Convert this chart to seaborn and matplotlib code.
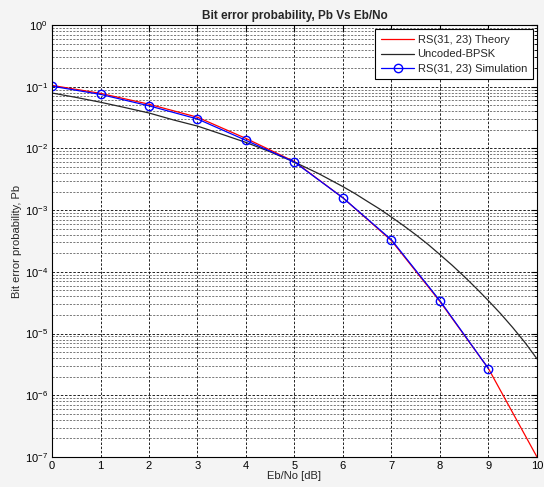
import numpy as np
import pandas as pd
import matplotlib
matplotlib.use('Agg')
import matplotlib.pyplot as plt
import matplotlib.ticker as mticker
import seaborn as sns

# values
ebno = [0, 1, 2, 3, 4, 5, 6, 7, 8, 9, 10]
rs_theory = [0.105, 0.078, 0.052, 0.032, 0.0145, 0.0061, 0.00158, 3.2e-4, 3.3e-5, 2.7e-6, 1.0e-7]

ebno_sim = [0, 1, 2, 3, 4, 5, 6, 7, 8, 9]
rs_sim = [0.102, 0.075, 0.049, 0.030, 0.0135, 0.0060, 0.00158, 3.3e-4, 3.4e-5, 2.7e-6]

ebno_bpsk = [0, 0.5, 1, 1.5, 2, 2.5, 3, 3.5, 4, 4.5, 5, 5.5, 6, 6.25, 6.5, 6.75, 7, 7.25, 7.5,
             7.75, 8, 8.25, 8.5, 8.75, 9, 9.25, 9.5, 9.75, 10]
bpsk = [0.079, 0.067, 0.056, 0.046, 0.0375, 0.029, 0.023, 0.017, 0.0125, 0.0088, 0.006,
        0.0039, 0.0024, 0.00185, 0.00139, 0.00105, 7.7e-4, 5.6e-4, 4.0e-4,
        2.8e-4, 1.9e-4, 1.28e-4, 8.4e-5, 5.4e-5, 3.4e-5, 2.1e-5, 1.25e-5, 7.2e-6, 3.9e-6]

sns.set_style('white')
plt.rcParams['font.family'] = ['Liberation Sans', 'DejaVu Sans']

fig = plt.figure(figsize=(5.44, 4.87), dpi=100, facecolor='#f4f4f4')
ax = fig.add_axes([0.0956, 0.0616, 0.8915, 0.8871])

sns.lineplot(x=ebno, y=rs_theory, ax=ax, color='red', lw=0.9, label='RS(31, 23) Theory')
sns.lineplot(x=ebno_bpsk, y=bpsk, ax=ax, color='#262626', lw=0.9, label='Uncoded-BPSK')
sns.lineplot(x=ebno_sim, y=rs_sim, ax=ax, color='blue', lw=0.9, marker='o',
             markersize=6, markerfacecolor='none', markeredgecolor='blue',
             markeredgewidth=1.0, label='RS(31, 23) Simulation')

ax.set_yscale('log')
ax.set_xlim(0, 10)
ax.set_ylim(1e-7, 1)
ax.set_xticks(range(11))
ax.yaxis.set_major_locator(mticker.LogLocator(base=10, numticks=10))
ax.yaxis.set_minor_locator(mticker.LogLocator(base=10, subs=np.arange(2, 10), numticks=20))
ax.yaxis.set_minor_formatter(mticker.NullFormatter())

grid_ls = (0, (3, 2))
ax.grid(True, which='major', axis='both', color='black', ls=grid_ls, lw=0.6)
ax.grid(True, which='minor', axis='y', color='#444444', ls=grid_ls, lw=0.5)
ax.set_axisbelow(True)

for s in ax.spines.values():
    s.set_color('black')
    s.set_linewidth(0.8)

ax.tick_params(which='both', direction='in', top=True, right=True, labelsize=8, colors='black')
ax.tick_params(which='major', length=4, pad=3)
ax.tick_params(which='minor', length=2)

ax.set_title('Bit error probability, Pb Vs Eb/No', fontsize=8.5, fontweight='bold', pad=4)
ax.set_xlabel('Eb/No [dB]', fontsize=8, labelpad=0)
ax.set_ylabel('Bit error probability, Pb', fontsize=8, labelpad=2)

leg = ax.legend(loc='upper right', fontsize=8, frameon=True, fancybox=False,
                edgecolor='black', framealpha=1, handlelength=3.0, borderaxespad=0.4,
                labelspacing=0.4, handletextpad=0.3, borderpad=0.5)
leg.get_frame().set_linewidth(0.8)

fig.savefig('out.png', dpi=100, facecolor=fig.get_facecolor())
